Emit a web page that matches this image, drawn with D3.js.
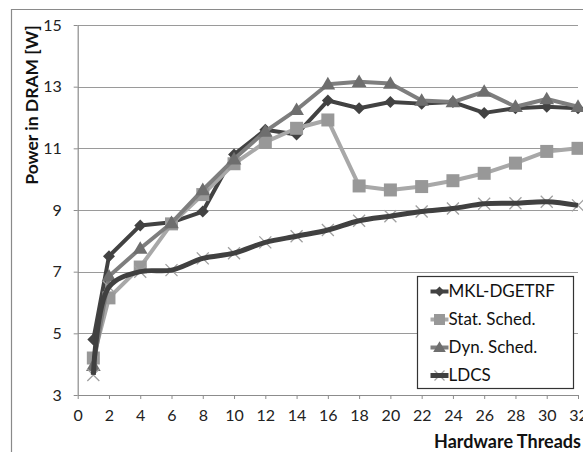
<!DOCTYPE html>
<html>
<head>
<meta charset="utf-8">
<script src="https://cdn.jsdelivr.net/npm/d3@7"></script>
<style>
  body { margin: 0; background: #fff; }
  svg { display: block; font-family: Lato, "Open Sans", sans-serif; }
  .axis path, .axis line { stroke: #8c8c8c; }
  .axis text { font-size: 16px; fill: #222; font-family: Lato, sans-serif; }
</style>
</head>
<body>
<div id="chart"></div>
<script>
// hardware threads on the x axis
const threads = [1, 2, 4, 6, 8, 10, 12, 14, 16, 18, 20, 22, 24, 26, 28, 30, 32];
// power in DRAM [W]
const mkl  = [4.8, 7.5, 8.5, 8.6, 8.95, 10.8, 11.6, 11.45, 12.55, 12.3, 12.5, 12.45, 12.5, 12.15, 12.3, 12.35, 12.3];
const stat = [4.2, 6.15, 7.15, 8.55, 9.5, 10.5, 11.2, 11.65, 11.92, 9.78, 9.65, 9.76, 9.95, 10.19, 10.52, 10.9, 11.0];
const dyn  = [3.95, 6.85, 7.75, 8.58, 9.65, 10.65, 11.55, 12.25, 13.08, 13.16, 13.1, 12.55, 12.5, 12.84, 12.35, 12.6, 12.35];
const ldcs = [3.65, 6.5, 7.0, 7.05, 7.43, 7.6, 7.95, 8.15, 8.35, 8.65, 8.8, 8.95, 9.05, 9.2, 9.22, 9.27, 9.15];
const seriesNames = ["MKL-DGETRF", "Stat. Sched.", "Dyn. Sched.", "LDCS"];
const xTicks = [0, 2, 4, 6, 8, 10, 12, 14, 16, 18, 20, 22, 24, 26, 28, 30, 32];
const yTicks = [3, 5, 7, 9, 11, 13, 15];

const W = 583, H = 452;
const margin = { TOP: 25, BOTTOM: 57, LEFT: 77.7, RIGHT: 5 };
const w = W - margin.LEFT - margin.RIGHT;
const h = H - margin.TOP - margin.BOTTOM;

const series = [
  { name: seriesNames[0], values: mkl,  color: "#424242", marker: "diamond",  width: 4 },
  { name: seriesNames[1], values: stat, color: "#a8a8a8", mcolor: "#989898", marker: "square", width: 4 },
  { name: seriesNames[2], values: dyn,  color: "#7e7e7e", mcolor: "#6e6e6e", marker: "triangle", width: 4 },
  { name: seriesNames[3], values: ldcs, color: "#404040", mcolor: "#a0a0a0", marker: "cross", width: 5, smooth: true }
];

const svg = d3.select("#chart").append("svg")
  .attr("width", W).attr("height", H);

// outer chart frame (only top and left visible)
svg.append("path")
  .attr("d", `M11.5,${H} V9.5 H${W}`)
  .attr("fill", "none").attr("stroke", "#8a8a8a").attr("stroke-width", 1.2);

const g = svg.append("g")
  .attr("transform", `translate(${margin.LEFT}, ${margin.TOP})`);

const xScale = d3.scaleLinear().domain([0, 32]).range([0, w]);
const yScale = d3.scaleLinear().domain([3, 15]).range([h, 0]);

// gridlines
g.append("g").selectAll("line")
  .data(yTicks.slice(1))
  .enter().append("line")
  .attr("x1", 0).attr("x2", w)
  .attr("y1", d => Math.round(yScale(d)) + 0.5)
  .attr("y2", d => Math.round(yScale(d)) + 0.5)
  .attr("stroke", "#9a9a9a").attr("stroke-width", 1);

// axes
const xAxisGroup = g.append("g")
  .attr("class", "axis")
  .attr("transform", `translate(0, ${h})`)
  .call(d3.axisBottom(xScale).tickValues(xTicks).tickSize(4).tickSizeOuter(0).tickPadding(11));

const yAxisGroup = g.append("g")
  .attr("class", "axis")
  .call(d3.axisLeft(yScale).tickValues(yTicks).tickSize(4).tickSizeOuter(0).tickPadding(12));

svg.selectAll(".axis .domain").attr("stroke-width", 1.2);

function markerPath(type, s) {
  if (type === "diamond") return `M0,${-s}L${s},0L0,${s}L${-s},0Z`;
  if (type === "square") return `M${-s},${-s}H${s}V${s}H${-s}Z`;
  if (type === "triangle") return `M0,${-s * 1.05}L${s * 1.05},${s * 0.75}L${-s * 1.05},${s * 0.75}Z`;
  return `M${-s},${-s}L${s},${s}M${-s},${s}L${s},${-s}`;
}
const markerSize = { diamond: 6, square: 6.5, triangle: 7, cross: 6 };

series.forEach(s => {
  const pts = threads.map((t, i) => [t, s.values[i]]);
  const line = d3.line()
    .x(d => xScale(d[0]))
    .y(d => yScale(d[1]))
    .curve(s.smooth ? d3.curveCatmullRom : d3.curveLinear);

  const sg = g.append("g").attr("class", "series");
  if (s.marker === "cross") {
    sg.selectAll("path.mk").data(pts).enter().append("path")
      .attr("class", "mk")
      .attr("transform", d => `translate(${xScale(d[0])}, ${yScale(d[1])})`)
      .attr("d", markerPath("cross", markerSize.cross))
      .attr("stroke", s.mcolor).attr("stroke-width", 1.3).attr("fill", "none");
  }
  sg.append("path")
    .attr("d", line(pts))
    .attr("fill", "none")
    .attr("stroke", s.color)
    .attr("stroke-width", s.width)
    .attr("stroke-linejoin", "round");
  if (s.marker !== "cross") {
    sg.selectAll("path.mk").data(pts).enter().append("path")
      .attr("class", "mk")
      .attr("transform", d => `translate(${xScale(d[0])}, ${yScale(d[1])})`)
      .attr("d", markerPath(s.marker, markerSize[s.marker]))
      .attr("fill", s.mcolor || s.color);
  }
});

// axis titles
svg.append("text")
  .attr("transform", "rotate(-90)")
  .attr("x", -105).attr("y", 32)
  .attr("dy", "0.35em")
  .style("text-anchor", "middle")
  .style("font-weight", "bold").style("font-size", "17.5px").style("fill", "#111")
  .text("Power in DRAM [W]");

svg.append("text")
  .attr("x", 581).attr("y", 442)
  .attr("dy", "0.35em")
  .style("text-anchor", "end")
  .style("font-weight", "bold").style("font-size", "18px").style("fill", "#111")
  .text("Hardware Threads");

// legend
const legend = svg.append("g").attr("transform", "translate(417.5, 276.5)");
legend.append("rect")
  .attr("width", 156).attr("height", 112)
  .attr("fill", "#fff").attr("stroke", "#333").attr("stroke-width", 1.2);

series.forEach((s, i) => {
  const row = legend.append("g").attr("transform", `translate(0, ${15 + i * 28})`);
  if (s.marker === "cross") {
    row.append("path").attr("transform", "translate(22, 0)")
      .attr("d", markerPath("cross", 5))
      .attr("stroke", s.mcolor).attr("stroke-width", 1.2).attr("fill", "none");
  }
  row.append("line")
    .attr("x1", 13).attr("x2", 31).attr("y1", 0).attr("y2", 0)
    .attr("stroke", s.color).attr("stroke-width", s.width);
  if (s.marker !== "cross") {
    row.append("path").attr("transform", "translate(22, 0)")
      .attr("d", markerPath(s.marker, markerSize[s.marker] - 1))
      .attr("fill", s.mcolor || s.color);
  }
  row.append("text")
    .attr("x", 31).attr("y", 0).attr("dy", "0.35em")
    .style("font-size", "17px").style("fill", "#111")
    .text(s.name);
});
</script>
</body>
</html>
